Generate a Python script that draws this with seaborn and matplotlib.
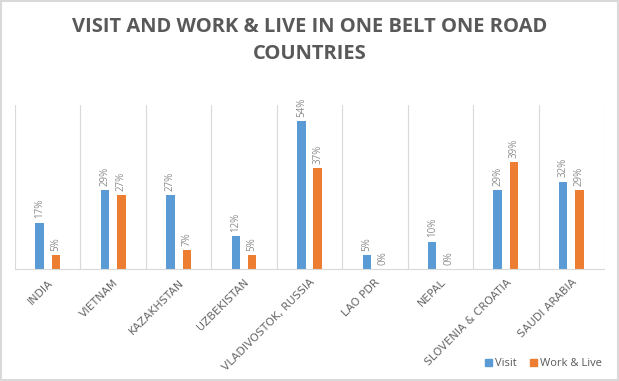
import numpy as np
import pandas as pd
import matplotlib
matplotlib.use("Agg")
import matplotlib.pyplot as plt
import seaborn as sns
from matplotlib.patches import Rectangle

# ── data ────────────────────────────────────────────────
countries = ["INDIA", "VIETNAM", "KAZAKHSTAN", "UZBEKISTAN", "VLADIVOSTOK, RUSSIA",
             "LAO PDR", "NEPAL", "SLOVENIA & CROATIA", "SAUDI ARABIA"]
visit = [17, 29, 27, 12, 54, 5, 10, 29, 32]
work_live = [5, 27, 7, 5, 37, 0, 0, 39, 29]
series = ["Visit", "Work & Live"]
colors = ["#5B9BD5", "#ED7D31"]

df = pd.DataFrame({
    "country": countries * 2,
    "series": [series[0]] * len(countries) + [series[1]] * len(countries),
    "value": visit + work_live,
})

sns.set_theme(style="white")
plt.rcParams["font.family"] = ["Open Sans", "DejaVu Sans"]

fig = plt.figure(figsize=(6.19, 3.81), dpi=100)
ax = fig.add_axes([0.0242, 0.294, 0.9516, 0.4305])

sns.barplot(data=df, x="country", y="value", hue="series", order=countries,
            hue_order=series, palette=colors, saturation=1, width=0.5, gap=0.48,
            edgecolor="none", legend=False, ax=ax)

ax.set_ylim(0, 60)
ax.set_xlim(-0.5, len(countries) - 0.5)
ax.set_yticks([])
ax.set_xlabel("")
ax.set_ylabel("")

# vertical gridlines between categories
for b in np.arange(-0.5, len(countries), 1.0):
    ax.axvline(b, color="#D9D9D9", lw=0.8, zorder=0)
for s in ["top", "left", "right"]:
    ax.spines[s].set_visible(False)
ax.spines["bottom"].set_color("#D9D9D9")
ax.spines["bottom"].set_linewidth(0.8)

# data labels
for cont in ax.containers:
    for bar in cont:
        h = bar.get_height()
        ax.annotate(f"{h:.0f}%", (bar.get_x() + bar.get_width() / 2, h),
                    xytext=(0, 3), textcoords="offset points", rotation=90,
                    ha="center", va="bottom", fontsize=7, color="#8C8C8C")

ax.set_xticks(range(len(countries)))
ax.set_xticklabels(countries, rotation=45, ha="right", rotation_mode="anchor",
                   fontsize=7.8, color="#666666", family="DejaVu Sans")
ax.tick_params(axis="x", length=0, pad=6)

fig.suptitle("VISIT AND WORK & LIVE IN ONE BELT ONE ROAD\nCOUNTRIES", y=0.955,
             fontsize=14.5, fontweight="bold", color="#595959", linespacing=1.45)

# legend
handles = [Rectangle((0, 0), 1, 1, color=c) for c in colors]
fig.legend(handles, series, loc="center", bbox_to_anchor=(0.878, 0.045), ncol=2,
           frameon=False, fontsize=8, handlelength=0.6, handleheight=0.6,
           handletextpad=0.3, columnspacing=1.2, labelcolor="#595959")

# chart border
fig.patches.append(Rectangle((0.002, 0.003), 0.996, 0.994, transform=fig.transFigure,
                             fill=False, edgecolor="#D9D9D9", lw=1.5))

fig.savefig("out.png", dpi=100)
